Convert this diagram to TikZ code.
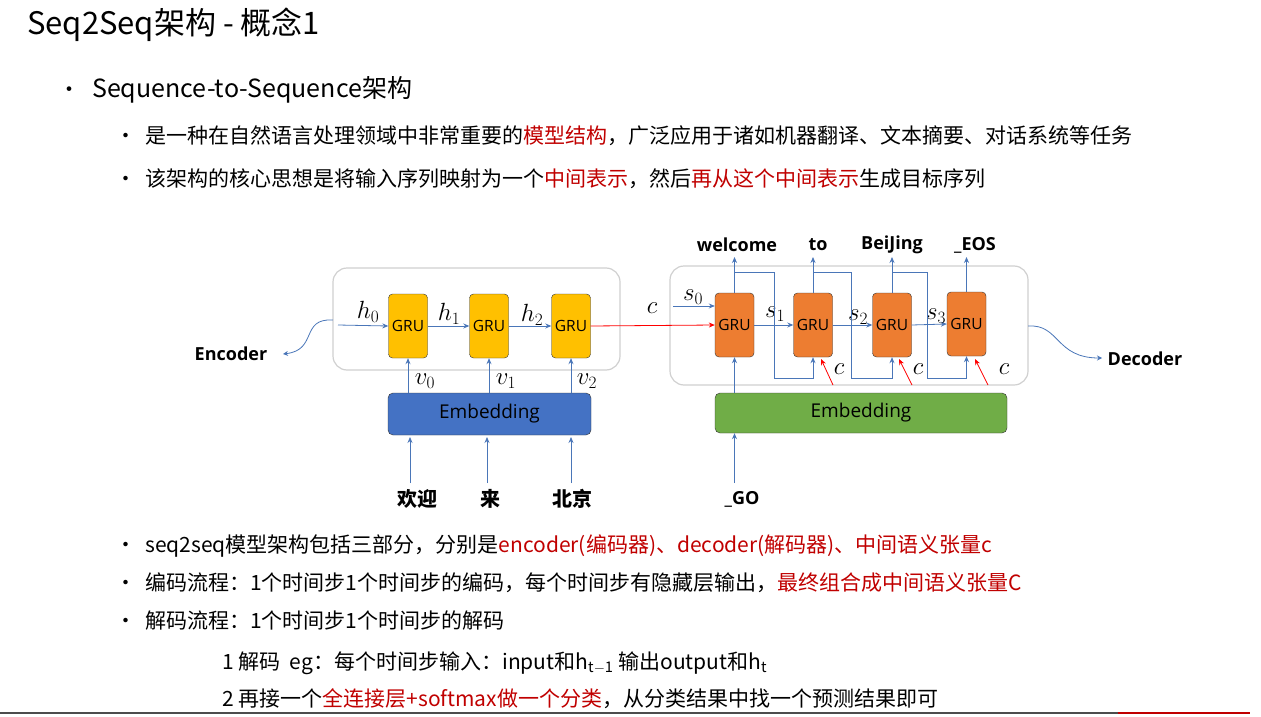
\documentclass[tikz,border=0pt]{standalone}
\usepackage{fontspec}
\setmainfont{Noto Sans CJK SC}
\newfontfamily\lat{Open Sans}
\usetikzlibrary{arrows.meta}
\definecolor{rd}{HTML}{C00000}
\definecolor{bl}{HTML}{4A76B8}
\definecolor{gry}{HTML}{D0D0D0}
\begin{document}
\begin{tikzpicture}[x=1pt,y=-1pt,
 t/.style={anchor=base west,inner sep=0},
 body/.style={t,font=\fontsize{21}{23}\selectfont},
 gru/.style={draw=black!80,rounded corners=4pt,minimum width=39pt,minimum height=64pt,inner sep=0,font=\lat\fontsize{15.5}{17}\selectfont},
 emb/.style={draw=black!80,rounded corners=5pt,inner sep=0,font=\lat\fontsize{19}{21}\selectfont},
 frame/.style={draw=gry,line width=1.2pt,rounded corners=14pt},
 ar/.style={draw=bl,-{Stealth[length=6pt,width=5pt]},line width=0.8pt},
 ln/.style={draw=bl,line width=0.8pt},
 rar/.style={draw=red,-{Stealth[length=6pt,width=5pt]},line width=0.8pt},
 ml/.style={font=\fontsize{24}{26}\selectfont,inner sep=0},
 wd/.style={font=\bfseries\fontsize{20}{22}\selectfont,inner sep=0},
 ew/.style={font=\lat\bfseries\fontsize{18}{20}\selectfont,inner sep=0}]
\useasboundingbox (0,0) rectangle (1261,717);
% text
\node[t,font=\fontsize{31}{34}\selectfont] (title) at (27,35) {Seq2Seq架构 - 概念1};
\node[t,font=\fontsize{22}{24}\selectfont] (b0) at (58,97) {•};
\node[t,font=\fontsize{25}{28}\selectfont] (l0) at (92,97) {Sequence-to-Sequence架构};
\foreach \y/\n in {143/a,186/b,552/c,590/d,628/e}{\node[body] (bu\n) at (115,\y) {•};}
\node[body] (l1) at (145,143) {是一种在自然语言处理领域中非常重要的\textcolor{rd}{模型结构}，广泛应用于诸如机器翻译、文本摘要、对话系统等任务};
\node[body] (l2) at (145,186) {该架构的核心思想是将输入序列映射为一个\textcolor{rd}{中间表示}，然后\textcolor{rd}{再从这个中间表示}生成目标序列};
\node[body] (l3) at (145,552) {seq2seq模型架构包括三部分，分别是\textcolor{rd}{encoder(编码器)、decoder(解码器)、中间语义张量c}};
\node[body] (l4) at (145,590) {编码流程：1个时间步1个时间步的编码，每个时间步有隐藏层输出，\textcolor{rd}{最终组合成中间语义张量C}};
\node[body] (l5) at (145,628) {解码流程：1个时间步1个时间步的解码};
\node[body] (l6) at (222,669) {1 解码\ \ eg：每个时间步输入：input和h$_{\mathrm{t-1}}$ 输出output和h$_{\mathrm{t}}$};
\node[body] (l7) at (222,706) {2 再接一个\textcolor{rd}{全连接层+softmax做一个分类}，从分类结果中找一个预测结果即可};
\draw[line width=1.5pt,black!70] (0,713) -- (1118,713);
\draw[line width=1.5pt,rd] (1118,713) -- (1250,713);
% encoder
\draw[frame] (333,268) rectangle (620,370);
\node[gru,fill={rgb,255:red,255;green,192;blue,0}] (e1) at (408,326) {GRU};
\node[gru,fill={rgb,255:red,255;green,192;blue,0}] (e2) at (489,326) {GRU};
\node[gru,fill={rgb,255:red,255;green,192;blue,0}] (e3) at (571,326) {GRU};
\node[emb,fill={rgb,255:red,68;green,114;blue,196},minimum width=203pt,minimum height=42pt] (ee) at (489.5,414) {Embedding};
\coordinate (h0s) at (338,325);
\draw[ar] (h0s) -- (e1.west);
\draw[ar] (e1.east) -- (e2.west);
\draw[ar] (e2.east) -- (e3.west);
\node[ml] (h0) at (368,312) {$h_0$};
\node[ml] (h1) at (449,314) {$h_1$};
\node[ml] (h2) at (532,315) {$h_2$};
\draw[ar] (ee.north -| e1) -- (e1.south);
\draw[ar] (ee.north -| e2) -- (e2.south);
\draw[ar] (ee.north -| e3) -- (e3.south);
\node[ml] (v0) at (425,381) {$v_0$};
\node[ml] (v1) at (506,381) {$v_1$};
\node[ml] (v2) at (587,381) {$v_2$};
\node[wd] (i1) at (417,499) {欢迎};
\node[wd] (i2) at (490,499) {来};
\node[wd] (i3) at (572,499) {北京};
\draw[ar] (410,483) -- (410,437);
\draw[ar] (487,483) -- (487,437);
\draw[ar] (571,483) -- (571,437);
\node[ew] (enc) at (231,354) {Encoder};
\coordinate (ef) at (333,320);
\draw[ln,-{Stealth[length=5pt,width=5pt]}] (ef) .. controls (300,318) and (318,350) .. (283,354);
% decoder
\draw[frame] (670,266) rectangle (1028,385);
\node[gru,fill={rgb,255:red,237;green,125;blue,49}] (d1) at (734.5,325) {GRU};
\node[gru,fill={rgb,255:red,237;green,125;blue,49}] (d2) at (813,325) {GRU};
\node[gru,fill={rgb,255:red,237;green,125;blue,49}] (d3) at (892,325) {GRU};
\node[gru,fill={rgb,255:red,237;green,125;blue,49}] (d4) at (966.5,324) {GRU};
\node[emb,fill={rgb,255:red,112;green,173;blue,71},minimum width=292pt,minimum height=40pt] (de) at (861,413) {Embedding};
\draw[rar] (e3.east) -- (d1.west);
\node[ml] (c0) at (652,308) {$c$};
\coordinate (s0s) at (673,306);
\draw[ar] (s0s) -- (d1.west |- s0s);
\node[ml] (s0) at (693,297) {$s_0$};
\draw[ar] (d1.east) -- (d2.west);
\draw[ar] (d2.east) -- (d3.west);
\draw[ar] (d3.east) -- (d4.west);
\node[ml] (s1) at (775,314) {$s_1$};
\node[ml] (s2) at (858,317) {$s_2$};
\node[ml] (s3) at (936,316) {$s_3$};
\node[ew] (o1) at (737,245) {welcome};
\node[ew] (o2) at (818,245) {to};
\node[ew] (o3) at (892,245) {BeiJing};
\node[ew] (o4) at (975,245) {\_EOS};
\foreach \d in {d1,d2,d3,d4}{\draw[ar] (\d.north) -- (\d.north |- 0,257);}
% feedback
\draw[ar] (d1.north |- 0,272) -- (774,272) -- (774,378) -- (813,378) -- (d2.south);
\draw[ar] (d2.north |- 0,272) -- (851,272) -- (851,378) -- (892,378) -- (d3.south);
\draw[ar] (d3.north |- 0,272) -- (927,272) -- (927,378) -- (966.5,378) -- (d4.south);
\draw[rar] (833,385) -- (821,359);
\draw[rar] (912,385) -- (899,359);
\draw[rar] (988,385) -- (975,359);
\node[ml] (c1) at (839,369) {$c$};
\node[ml] (c2) at (918,369) {$c$};
\node[ml] (c3) at (1004,369) {$c$};
\draw[ar] (de.north -| d1) -- (d1.south);
\node[ew] (go) at (742,499) {\_GO};
\draw[ar] (d1.south |- 0,483) -- (d1.south |- de.south);
\node[ew] (dec) at (1145,359) {Decoder};
\coordinate (df) at (1028,326);
\draw[ln,-{Stealth[length=5pt,width=5pt]}] (df) .. controls (1060,324) and (1055,358) .. (1102,358);
\end{tikzpicture}
\end{document}
